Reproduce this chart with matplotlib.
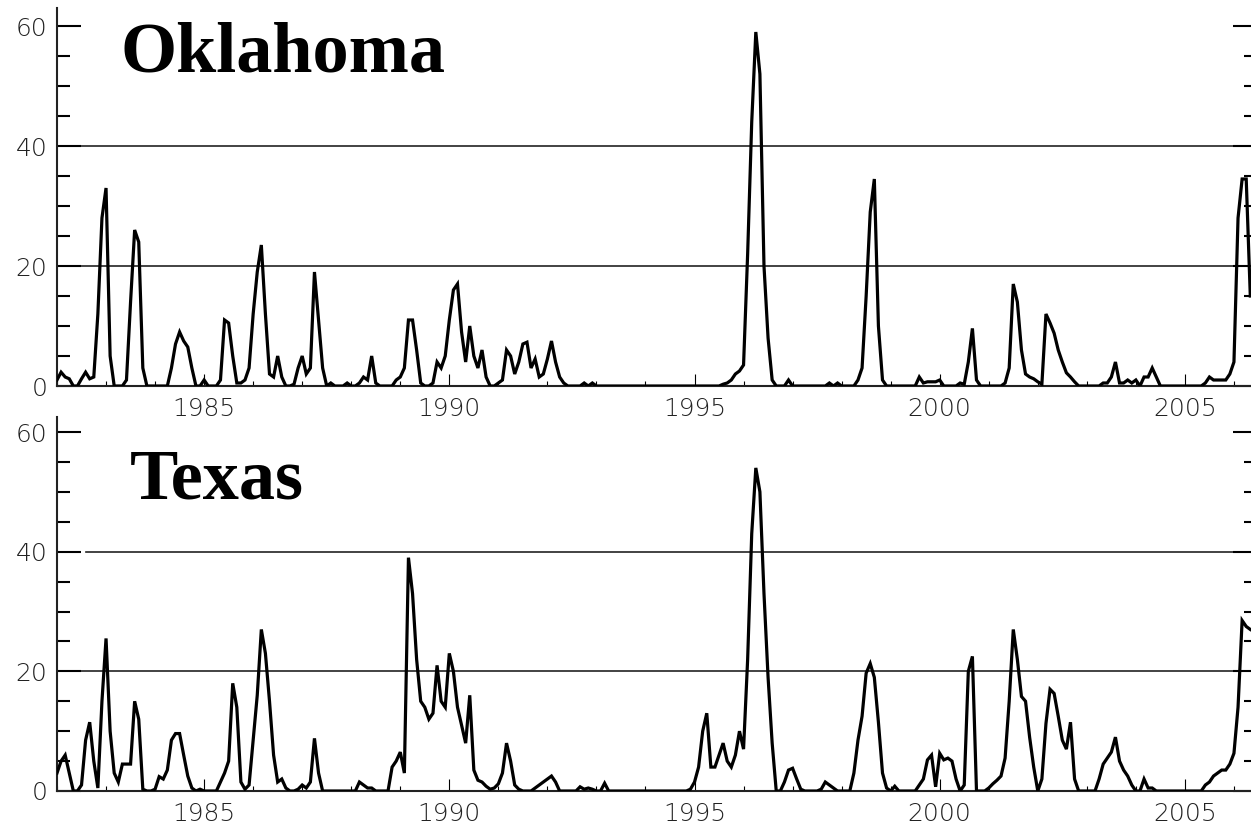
import numpy as np
import matplotlib.pyplot as plt
from matplotlib.ticker import MultipleLocator

# monthly values starting Jan 1982, one row per year (2006 is partial)
start_year = 1982

oklahoma = [
    1, 2.3, 1.5, 1.2, 0, 0, 1.2, 2.3, 1.2, 1.5, 12, 28,        # 1982
    33, 5, 0, 0, 0, 1, 14, 26, 24, 3, 0, 0,                     # 1983
    0, 0, 0, 0, 3, 7, 9, 7.5, 6.5, 3, 0, 0,                     # 1984
    1, 0, 0, 0, 1, 11, 10.5, 5, 0.5, 0.5, 1, 3,                 # 1985
    12, 19, 23.5, 12, 2, 1.5, 5, 1.5, 0, 0, 0.3, 3,             # 1986
    5, 2, 3, 19, 11, 3, 0, 0.5, 0, 0, 0, 0.5,                   # 1987
    0, 0, 0.5, 1.5, 1, 5, 0.5, 0, 0, 0, 0, 1,                   # 1988
    1.5, 3, 11, 11, 6, 0.5, 0, 0, 0.5, 4, 3, 5,                 # 1989
    11, 16, 17, 9, 4, 10, 5, 3, 6, 1.5, 0, 0,                   # 1990
    0.5, 1, 6, 5, 2, 4, 7, 7.3, 3, 4.5, 1.5, 2,                 # 1991
    4.5, 7.5, 4, 1.5, 0.5, 0, 0, 0, 0, 0.5, 0, 0.5,             # 1992
    0, 0, 0, 0, 0, 0, 0, 0, 0, 0, 0, 0,                         # 1993
    0, 0, 0, 0, 0, 0, 0, 0, 0, 0, 0, 0,                         # 1994
    0, 0, 0, 0, 0, 0, 0, 0.3, 0.5, 1, 2, 2.5,                   # 1995
    3.5, 22, 44, 59, 52, 20, 8, 1, 0, 0, 0, 1,                  # 1996
    0, 0, 0, 0, 0, 0, 0, 0, 0, 0.5, 0, 0.5,                     # 1997
    0, 0, 0, 0, 1, 3, 15, 29, 34.5, 10, 1, 0,                   # 1998
    0, 0, 0, 0, 0, 0, 0, 1.5, 0.5, 0.7, 0.7, 0.7,               # 1999
    1, 0, 0, 0, 0, 0.5, 0.3, 4, 9.6, 1, 0, 0,                   # 2000
    0, 0, 0, 0, 0.5, 3, 17, 14, 6, 2, 1.5, 1.2,                 # 2001
    0.7, 0.3, 12, 10.5, 8.8, 6, 4, 2.2, 1.5, 0.7, 0, 0,         # 2002
    0, 0, 0, 0, 0.5, 0.5, 1.5, 4, 0.5, 0.5, 1, 0.5,             # 2003
    1, 0, 1.5, 1.5, 3, 1.5, 0, 0, 0, 0, 0, 0,                   # 2004
    0, 0, 0, 0, 0, 0.5, 1.5, 1, 1, 1, 1, 2,                     # 2005
    4, 28, 34.5, 34.5, 15,                                      # 2006
]

texas = [
    3, 5, 6, 3, 0, 0, 1, 8.5, 11.5, 5, 0.5, 15,                 # 1982
    25.5, 10, 3, 1.5, 4.5, 4.5, 4.5, 15, 12, 0.3, 0, 0,         # 1983
    0.3, 2.4, 2, 3.5, 8.5, 9.6, 9.6, 6, 2.5, 0.5, 0, 0.3,       # 1984
    0, 0, 0, 0, 1.5, 3, 5, 18, 14, 1.5, 0.3, 1,                 # 1985
    8.5, 16, 27, 23, 15, 6, 1.5, 2, 0.5, 0, 0, 0.3,             # 1986
    1, 0.5, 1.5, 8.8, 3, 0, 0, 0, 0, 0, 0, 0,                   # 1987
    0, 0, 1.5, 1, 0.5, 0.5, 0, 0, 0, 0, 4, 5,                   # 1988
    6.5, 3, 39, 33, 22, 15, 14, 12, 13, 21, 15, 14,             # 1989
    23, 20, 14, 11, 8, 16, 3.5, 1.8, 1.5, 0.8, 0.3, 0.5,        # 1990
    1.2, 3, 8, 5, 1, 0.3, 0, 0, 0, 0.5, 1, 1.5,                 # 1991
    2, 2.5, 1.5, 0, 0, 0, 0, 0, 0.7, 0.3, 0.5, 0.3,             # 1992
    0, 0, 1.3, 0, 0, 0, 0, 0, 0, 0, 0, 0,                       # 1993
    0, 0, 0, 0, 0, 0, 0, 0, 0, 0, 0, 0.3,                       # 1994
    1.5, 4, 10, 13, 4, 4, 6, 8, 5, 4, 6, 10,                    # 1995
    7, 22, 43, 54, 50, 33, 19, 8, 0, 0, 1.5, 3.5,               # 1996
    3.8, 2, 0.3, 0, 0, 0, 0, 0.3, 1.5, 1, 0.5, 0,               # 1997
    0, 0, 0, 3, 8.5, 12.5, 19.7, 21.3, 19, 11.5, 3, 0.5,        # 1998
    0, 0.8, 0, 0, 0, 0, 0, 1, 2, 5.2, 6, 0.7,                   # 1999
    6.3, 5.2, 5.5, 5, 2, 0, 1, 20, 22.5, 0, 0, 0,               # 2000
    0.5, 1.2, 1.8, 2.5, 5.5, 15, 27, 22, 15.8, 15, 9, 4,        # 2001
    0, 2, 11.3, 17, 16.3, 12.5, 8.5, 7, 11.5, 2, 0, 0,          # 2002
    0, 0, 0, 2, 4.5, 5.5, 6.5, 9, 5, 3.5, 2.5, 1,               # 2003
    0, 0, 2, 0.5, 0.5, 0, 0, 0, 0, 0, 0, 0,                     # 2004
    0, 0, 0, 0, 0, 1, 1.5, 2.5, 3, 3.5, 3.5, 4.5,               # 2005
    6.3, 14, 28.5, 27.5, 27,                                    # 2006
]

panels = ['Oklahoma', 'Texas']
y_ticks = [0, 20, 40, 60]
x_ticks = [1985, 1990, 1995, 2000, 2005]

W, H = 1251, 826
fig = plt.figure(figsize=(W / 100, H / 100), dpi=100, facecolor='w')

# axes boxes in pixels: left, y of the zero line (from top), px per unit, top value
boxes = [(57, 386, 6.0, 63.0), (57, 791, 5.983, 62.5)]
xmin, xmax = 1982.0, 2006.47
ax_w = 1200

for name, vals, (px_l, px_y0, ppu, ytop) in zip(panels, [oklahoma, texas], boxes):
    h = ytop * ppu
    ax = fig.add_axes([px_l / W, (H - px_y0) / H, ax_w / W, h / H])
    t = start_year + np.arange(len(vals)) / 12.0
    ax.plot(t, vals, color='k', lw=2.3, solid_joinstyle='miter', zorder=3)

    # reference lines at 20 and 40
    for yv in (20, 40):
        x0 = 0.024 if (name == 'Texas' and yv == 40) else 0
        ax.axhline(yv, xmin=x0, color='#222222', lw=1.2, zorder=1)

    ax.set_xlim(xmin, xmax)
    ax.set_ylim(0, ytop)
    ax.set_yticks(y_ticks)
    ax.yaxis.set_minor_locator(MultipleLocator(5))
    ax.set_xticks(x_ticks)
    ax.xaxis.set_minor_locator(MultipleLocator(1))

    ax.tick_params(axis='y', which='major', direction='in', length=17.3, width=1.5,
                   right=True, left=True, labelsize=18, pad=7, labelcolor='#222222')
    ax.tick_params(axis='y', which='minor', direction='in', length=9.4, width=1.5,
                   right=True, left=True)
    ax.tick_params(axis='x', which='major', direction='in', length=8.5, width=0.8,
                   labelsize=18, pad=8, labelcolor='#222222')
    ax.tick_params(axis='x', which='minor', direction='in', length=3.5, width=0.8)
    for lab in ax.get_xticklabels() + ax.get_yticklabels():
        lab.set_fontweight('light')

    ax.spines['top'].set_visible(False)
    for s in ('left', 'right', 'bottom'):
        ax.spines[s].set_linewidth(1.5)
        ax.spines[s].set_color('#222222')
    ax.set_facecolor('none')

    if name == 'Oklahoma':
        pos = (0.0525, 0.831)
    else:
        pos = (0.061, 0.782)
    ax.text(pos[0], pos[1], name, transform=ax.transAxes, family='Liberation Serif',
            fontweight='bold', fontsize=52, va='baseline', ha='left', color='k')

fig.savefig('out.png', dpi=100, facecolor='w')
